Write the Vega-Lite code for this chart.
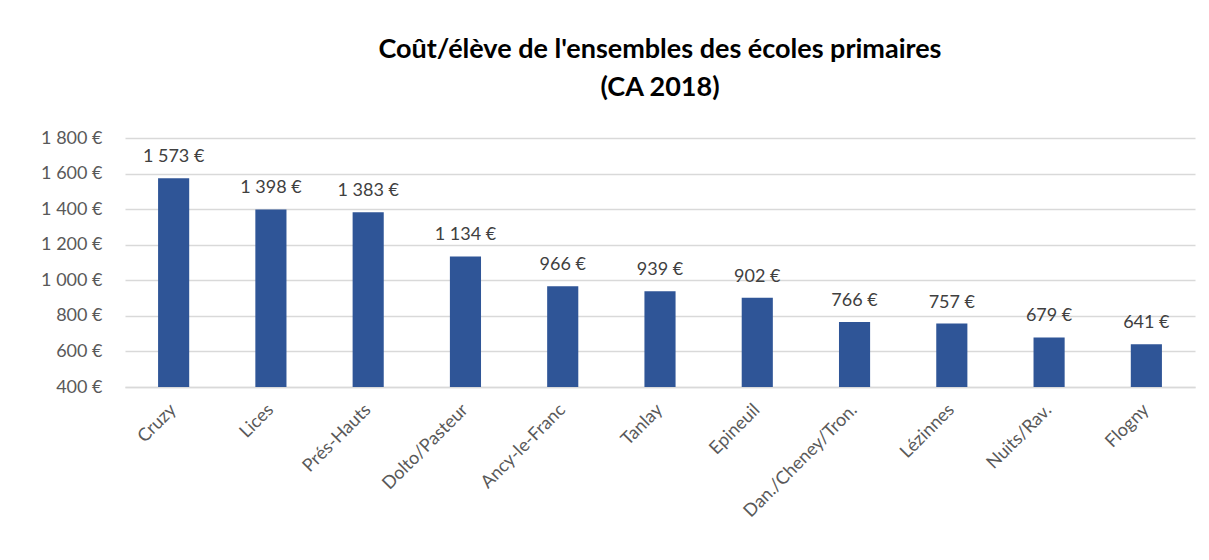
{
  "$schema": "https://vega.github.io/schema/vega-lite/v6.json",
  "width": 1070,
  "height": 249,
  "autosize": {"type": "none"},
  "padding": {"left": 125, "top": 138, "right": 14, "bottom": 173},
  "background": "white",
  "config": {
    "locale": {"number": {"decimal": ",", "thousands": "\u00a0", "grouping": [3], "currency": ["", "\u00a0€"]}},
    "view": {"stroke": null},
    "font": "Lato"
  },
  "title": {
    "text": ["Coût/élève de l'ensembles des écoles primaires", "(CA 2018)"],
    "anchor": "middle",
    "frame": "group",
    "font": "Lato",
    "fontSize": 27,
    "fontWeight": "bold",
    "color": "#000000",
    "lineHeight": 38,
    "offset": 27
  },
  "data": {
    "values": [
      {"ecole": "Cruzy", "cout": 1573},
      {"ecole": "Lices", "cout": 1398},
      {"ecole": "Prés-Hauts", "cout": 1383},
      {"ecole": "Dolto/Pasteur", "cout": 1134},
      {"ecole": "Ancy-le-Franc", "cout": 966},
      {"ecole": "Tanlay", "cout": 939},
      {"ecole": "Epineuil", "cout": 902},
      {"ecole": "Dan./Cheney/Tron.", "cout": 766},
      {"ecole": "Lézinnes", "cout": 757},
      {"ecole": "Nuits/Rav.", "cout": 679},
      {"ecole": "Flogny", "cout": 641}
    ]
  },
  "encoding": {
    "x": {
      "field": "ecole",
      "type": "nominal",
      "sort": null,
      "scale": {"paddingInner": 0.68, "paddingOuter": 0.34},
      "axis": {
        "title": null,
        "labelAngle": -45,
        "labelAlign": "right",
        "labelBaseline": "middle",
        "labelFontSize": 18,
        "labelColor": "#595959",
        "labelPadding": 20,
        "ticks": false,
        "domainColor": "#D9D9D9",
        "domainWidth": 1.5
      }
    },
    "y": {
      "field": "cout",
      "type": "quantitative",
      "scale": {"domain": [400, 1800], "nice": false, "zero": false},
      "axis": {
        "title": null,
        "values": [400, 600, 800, 1000, 1200, 1400, 1600, 1800],
        "format": "$,.0f",
        "labelFontSize": 18,
        "labelColor": "#595959",
        "labelPadding": 23,
        "ticks": false,
        "domain": false,
        "gridColor": "#D9D9D9",
        "gridWidth": 1.5
      }
    }
  },
  "layer": [
    {"mark": {"type": "bar", "color": "#2F5597", "clip": true}},
    {
      "mark": {"type": "text", "dy": -12, "baseline": "bottom", "fontSize": 18, "color": "#404040"},
      "encoding": {"text": {"field": "cout", "type": "quantitative", "format": "$,.0f"}}
    }
  ]
}
